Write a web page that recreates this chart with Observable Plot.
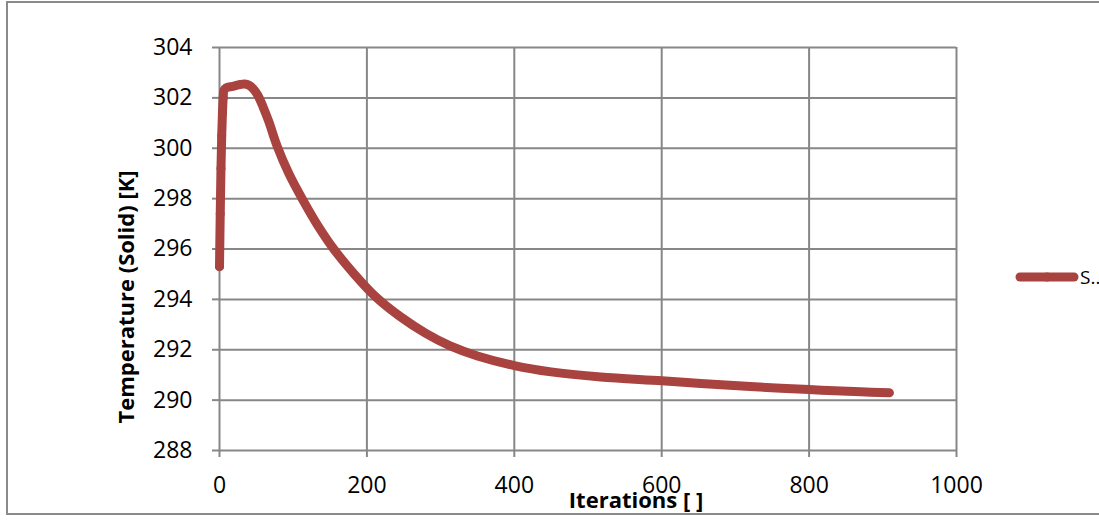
<!DOCTYPE html>
<html>
<head>
<meta charset="utf-8">
<script src="https://cdn.jsdelivr.net/npm/d3@7"></script>
<script src="https://cdn.jsdelivr.net/npm/@observablehq/plot@0.6"></script>
<style>
  html, body { margin: 0; padding: 0; background: #fff; width: 1099px; height: 520px; overflow: hidden; }
  #wrap { position: relative; width: 1099px; height: 520px; font-family: "Open Sans", sans-serif; }
  #frame { position: absolute; left: 6px; top: 1px; width: 1100px; height: 514px; border: 2px solid #8a8a8a; border-right: none; box-sizing: border-box; }
  #chart { position: absolute; left: 0; top: 0; }
  .ytitle { position: absolute; left: 125px; top: 297px; transform: translate(-50%, -50%) rotate(-90deg); font-weight: bold; font-size: 22px; white-space: nowrap; color: #000; }
  .xtitle { position: absolute; left: 636px; top: 499px; transform: translate(-50%, -50%); font-weight: bold; font-size: 22px; white-space: nowrap; color: #000; }
  #legend { position: absolute; left: 1012px; top: 263px; display: flex; align-items: center; }
  #legend span { font-size: 19px; color: #000; margin-left: 0px; }
</style>
</head>
<body>
<div id="wrap">
  <div id="frame"></div>
  <div id="chart"></div>
  <div class="ytitle">Temperature (Solid) [K]</div>
  <div class="xtitle">Iterations [ ]</div>
  <div id="legend"></div>
</div>
<script>
// Data
const iterations = [0, 1, 2, 3, 4, 5, 6, 9, 18, 28, 34, 40, 46, 52, 59, 67, 78, 94, 113, 133, 155, 183, 212, 246, 280, 313, 350, 400, 450, 517, 600, 653, 720, 800, 870, 909];
const temperature = [295.3, 297.4, 299.2, 300.5, 301.4, 302.0, 302.3, 302.4, 302.46, 302.53, 302.55, 302.5, 302.35, 302.1, 301.65, 301.05, 300.1, 299.0, 297.95, 296.95, 296.0, 295.0, 294.1, 293.3, 292.65, 292.15, 291.75, 291.37, 291.12, 290.92, 290.77, 290.66, 290.54, 290.42, 290.33, 290.29];
const xTicks = [0, 200, 400, 600, 800, 1000];
const yTicks = [288, 290, 292, 294, 296, 298, 300, 302, 304];
const seriesName = "S..";
const seriesColor = "#a9433f";

const data = iterations.map((x, i) => ({x, y: temperature[i]}));
const markerData = data.slice(0, 6);

const grid = {stroke: "#878787", strokeWidth: 2, strokeOpacity: 1};

const chart = Plot.plot({
  width: 1099,
  height: 520,
  marginLeft: 219,
  marginRight: 143,
  marginTop: 47,
  marginBottom: 70,
  style: {fontFamily: "Open Sans, sans-serif", fontSize: "23px", color: "#000", background: "transparent", overflow: "visible"},
  x: {domain: [0, 1000]},
  y: {domain: [288, 304]},
  marks: [
    Plot.gridX(xTicks, grid),
    Plot.gridY(yTicks, grid),
    Plot.axisX(xTicks, {tickSize: 7, tickPadding: 19, fontSize: 23, stroke: "#878787", strokeWidth: 2, label: null, fill: "#000", tickFormat: d => String(d)}),
    Plot.axisY(yTicks, {tickSize: 7, tickPadding: 20, fontSize: 23, stroke: "#878787", strokeWidth: 2, label: null, fill: "#000", tickFormat: d => String(d)}),
    Plot.line(data, {x: "x", y: "y", stroke: seriesColor, strokeWidth: 9, curve: "catmull-rom", strokeLinecap: "round", strokeLinejoin: "round"}),
    Plot.dot(markerData, {x: "x", y: "y", r: 4.5, fill: seriesColor})
  ]
});
document.getElementById("chart").appendChild(chart);

// Legend
const lg = d3.select("#legend");
const ls = lg.append("svg").attr("width", 68).attr("height", 28);
ls.append("line").attr("x1", 8).attr("x2", 62).attr("y1", 14).attr("y2", 14)
  .attr("stroke", seriesColor).attr("stroke-width", 9).attr("stroke-linecap", "round");
ls.append("circle").attr("cx", 35).attr("cy", 14).attr("r", 4.5).attr("fill", seriesColor);
lg.append("span").text(seriesName);
</script>
</body>
</html>
